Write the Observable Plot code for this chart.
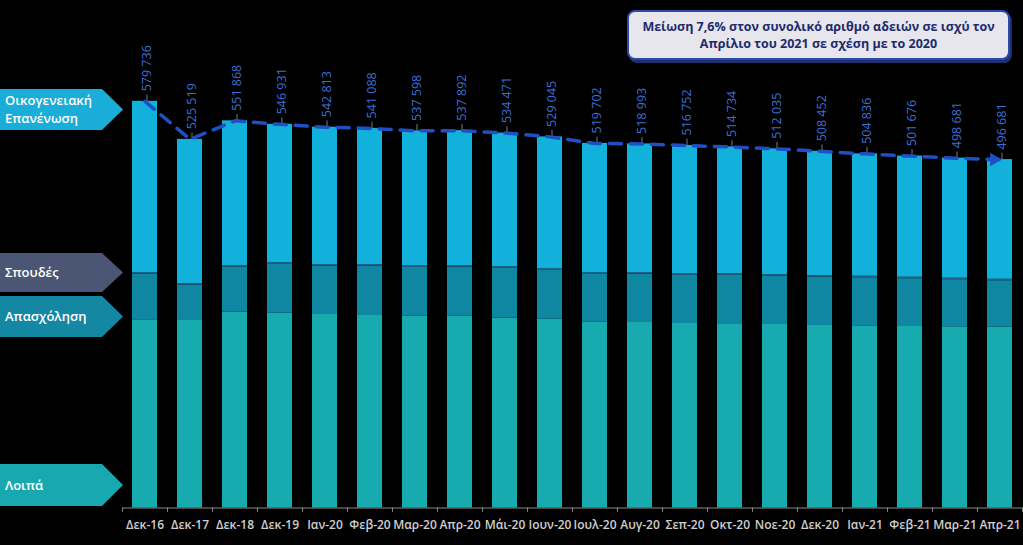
<!DOCTYPE html>
<html>
<head>
<meta charset="utf-8">
<script src="https://cdn.jsdelivr.net/npm/d3@7"></script>
<script src="https://cdn.jsdelivr.net/npm/@observablehq/plot@0.6"></script>
<style>
  html, body { margin: 0; padding: 0; background: #000; }
  #wrap { position: relative; width: 1023px; height: 545px; overflow: hidden; background: #000; }
  #chart { position: absolute; left: 0; top: 0; }
  #legend { position: absolute; left: 0; top: 0; }
  #title {
    position: absolute; left: 627px; top: 10px; width: 379px; height: 46px;
    background: #e6e6ec; border: 2px solid #2b4aa8; border-radius: 8px;
    box-shadow: 2px 3px 0 #1d2f70;
    font: 700 12.5px "Open Sans", sans-serif; color: #1c2a6e;
    text-align: center; line-height: 17px;
    display: flex; flex-direction: column; align-items: center; justify-content: center;
  }
</style>
</head>
<body>
<div id="wrap">
  <div id="chart"></div>
  <svg id="legend" width="130" height="545"></svg>
  <div id="title"><div>Μείωση 7,6% στον συνολικό αριθμό αδειών σε ισχύ τον</div><div>Απρίλιο του 2021 σε σχέση με το 2020</div></div>
</div>
<script>
// ---- data ----
const months = ["Δεκ-16","Δεκ-17","Δεκ-18","Δεκ-19","Ιαν-20","Φεβ-20","Μαρ-20","Απρ-20","Μάι-20","Ιουν-20","Ιουλ-20","Αυγ-20","Σεπ-20","Οκτ-20","Νοε-20","Δεκ-20","Ιαν-21","Φεβ-21","Μαρ-21","Απρ-21"];
const seriesNames = ["Λοιπά", "Απασχόληση", "Σπουδές", "Οικογενειακή Επανένωση"];
const loipa      = [268300,267300,279100,277700,275800,274400,273400,273400,270600,269100,265400,264400,263000,261600,261600,260200,259700,258700,258300,257700];
const apasxolisi = [64900,50300,64400,69500,69000,70400,69500,70000,71000,69500,67600,69100,68600,70100,69100,69100,68600,68200,67200,66300];
const spoudes    = [2100,2000,2200,2300,2300,2300,2300,2300,2300,2300,2200,2200,2200,2200,2200,2200,2100,2100,2100,2100];
const oikogeneia = [244400,205900,206200,197400,195700,194000,192400,192200,190600,188100,184500,183300,183000,180800,179100,177000,174400,172700,171100,170600];
const totals     = [579736,525519,551868,546931,542813,541088,537598,537892,534471,529045,519702,518993,516752,514734,512035,508452,504836,501676,498681,496681];
const barColors    = ["#17abaf", "#0f87a3", "#245f86", "#12b1db"];
const legendColors = ["#18a9b0", "#1487a3", "#4a5673", "#1aadd8"];
const legendLabels = [["Λοιπά"], ["Απασχόληση"], ["Σπουδές"], ["Οικογενειακή", "Επανένωση"]];

// ---- derived tables ----
const seriesValues = [loipa, apasxolisi, spoudes, oikogeneia];
const tidy = seriesNames.flatMap((s, k) => seriesValues[k].map((v, i) => ({month: months[i], series: s, value: v})));
const fmt = v => d3.format(",")(v).replace(/,/g, " ");
const totalRows = totals.map((t, i) => ({month: months[i], total: t, label: fmt(t)}));

const chart = Plot.plot({
  width: 1023,
  height: 545,
  marginLeft: 122,
  marginRight: 1,
  marginTop: 0,
  marginBottom: 37.5,
  style: {background: "#000", color: "#cfcfcf", fontFamily: "Open Sans, sans-serif", fontSize: "12px", fontWeight: 600},
  x: {domain: months, paddingInner: 0.444, paddingOuter: 0.222, round: false, tickSize: 0, tickPadding: 12, label: null},
  y: {domain: [0, 723450], axis: null},
  color: {domain: seriesNames, range: barColors},
  marks: [
    Plot.barY(tidy, {x: "month", y: "value", fill: "series", order: seriesNames}),
    Plot.ruleY([0], {stroke: "#8a8a8a", strokeWidth: 1}),
    Plot.ruleX(months, {x: d => d, dx: -22.5, y1: 0, y2: -6000, stroke: "#8a8a8a"}),
    Plot.ruleX(months.slice(-1), {x: d => d, dx: 22.5, y1: 0, y2: -6000, stroke: "#8a8a8a"}),
    Plot.ruleX(totalRows, {x: "month", y1: "total", y2: d => d.total + 9000, dx: 2, stroke: "#9a9a9a", strokeWidth: 0.8}),
    Plot.line(totalRows, {x: "month", y: "total", stroke: "#1f4fc4", strokeWidth: 3.5, strokeDasharray: "12,9"}),
    Plot.dot(totalRows.slice(-1), {x: "month", y: "total", symbol: "triangle", rotate: 90, r: 5, fill: "#1f4fc4", dx: -6}),
    Plot.text(totalRows, {x: "month", y: "total", text: "label", rotate: -90, textAnchor: "start", dy: -10, dx: 2, fill: "#3b6fd4", fontSize: 12.5, fontWeight: 400})
  ]
});
document.getElementById("chart").appendChild(chart);

// ---- legend arrows (left side) ----
const arrows = [
  {top: 464, bottom: 506},
  {top: 296, bottom: 337},
  {top: 253, bottom: 292},
  {top: 89, bottom: 130}
];
const lg = d3.select("#legend");
arrows.forEach((a, k) => {
  const mid = (a.top + a.bottom) / 2;
  lg.append("polygon")
    .attr("points", [[0, a.top], [102, a.top], [123, mid], [102, a.bottom], [0, a.bottom]].map(p => p.join(",")).join(" "))
    .attr("fill", legendColors[k]);
  const lines = legendLabels[k];
  const t = lg.append("text")
    .attr("x", 5)
    .attr("fill", "#fff")
    .attr("font-family", "Open Sans, sans-serif")
    .attr("font-size", 13)
    .attr("font-weight", 600);
  lines.forEach((ln, j) => {
    t.append("tspan")
      .attr("x", 5)
      .attr("y", mid + (j - (lines.length - 1) / 2) * 18.5)
      .attr("dy", "0.35em")
      .text(ln);
  });
});
</script>
</body>
</html>
